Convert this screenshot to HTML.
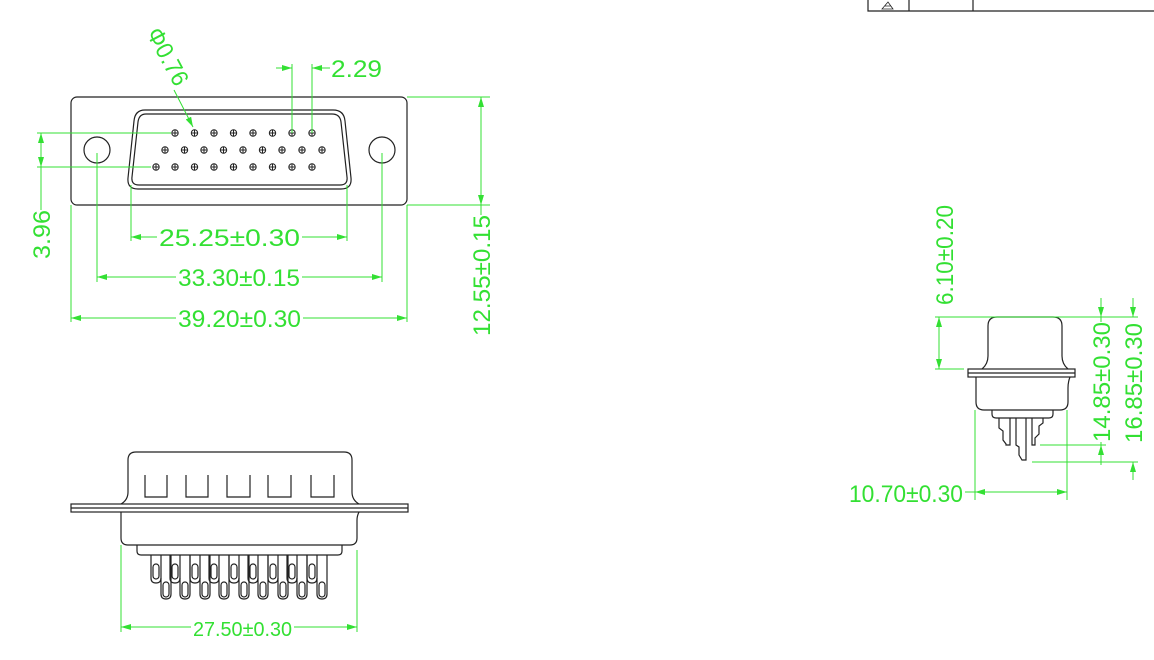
<!DOCTYPE html>
<html><head><meta charset="utf-8"><style>
html,body{margin:0;padding:0;background:#fff;width:1154px;height:660px;overflow:hidden}
svg{display:block}
.k{fill:none;stroke:#222;stroke-width:1.2}
.g{fill:none;stroke:#33e033;stroke-width:1}
text{font-family:"Liberation Sans",sans-serif;fill:#33e033;font-size:24px}
</style></head><body>
<svg width="1154" height="660" viewBox="0 0 1154 660">
<defs>
<marker id="a" viewBox="0 0 10 6" refX="10" refY="3" markerWidth="10" markerHeight="6" orient="auto-start-reverse" markerUnits="userSpaceOnUse"><path d="M0,0 L10,3 L0,6" fill="#33e033"/></marker>
<g id="pin"><circle r="3.2" fill="none" stroke="#222" stroke-width="1"/><path d="M-3.2,0H3.2M0,-3.2V3.2" stroke="#222" stroke-width="1"/></g>
</defs>

<!-- title block -->
<path d="M868,0V11H1154M909,0V11M973,0V11" stroke="#222" stroke-width="1.2" fill="none"/>
<path d="M882,9L888,2L893,9Z M885,6H891" stroke="#222" stroke-width="0.8" fill="none"/>

<!-- TOP VIEW -->
<rect x="71" y="97" width="336" height="108" rx="6" class="k"/>
<path class="k" d="M145,110 H333 Q344,110 345,121 L351,178 Q352,189 341,189 H138 Q127,189 128,178 L134,121 Q135,110 145,110Z"/>
<path class="k" d="M146,114 H332 Q340,114 341,122 L347,177 Q348,185 340,185 H139 Q131,185 132,177 L138,122 Q139,114 146,114Z"/>
<circle cx="97" cy="150" r="13" class="k"/>
<circle cx="382" cy="150" r="13" class="k"/>
<g>
<use href="#pin" x="175" y="133"/><use href="#pin" x="194.5" y="133"/><use href="#pin" x="214" y="133"/><use href="#pin" x="233.5" y="133"/><use href="#pin" x="253" y="133"/><use href="#pin" x="272.5" y="133"/><use href="#pin" x="292" y="133"/><use href="#pin" x="312" y="133"/>
<use href="#pin" x="165" y="150"/><use href="#pin" x="184.5" y="150"/><use href="#pin" x="204" y="150"/><use href="#pin" x="223.5" y="150"/><use href="#pin" x="243" y="150"/><use href="#pin" x="262.5" y="150"/><use href="#pin" x="282" y="150"/><use href="#pin" x="302" y="150"/><use href="#pin" x="322" y="150"/>
<use href="#pin" x="156" y="167"/><use href="#pin" x="175" y="167"/><use href="#pin" x="194.5" y="167"/><use href="#pin" x="214" y="167"/><use href="#pin" x="233.5" y="167"/><use href="#pin" x="253" y="167"/><use href="#pin" x="272.5" y="167"/><use href="#pin" x="292" y="167"/><use href="#pin" x="312" y="167"/>
</g>
<!-- 2.29 -->
<path class="g" d="M292,64V133M312,64V133"/>
<path class="g" d="M276,68H292" marker-end="url(#a)"/>
<path class="g" d="M330,68H312" marker-end="url(#a)"/>
<text x="331" y="77" textLength="51" lengthAdjust="spacingAndGlyphs">2.29</text>
<!-- phi -->
<path class="g" d="M174,90L193,127" marker-end="url(#a)"/>
<text transform="translate(146,33) rotate(62)" textLength="62" lengthAdjust="spacingAndGlyphs">Φ0.76</text>
<!-- 3.96 -->
<path class="g" d="M37,133H171M37,167H151"/>
<path class="g" d="M41,150V133" marker-end="url(#a)"/>
<path class="g" d="M41,150V167" marker-end="url(#a)"/>
<path class="g" d="M41,167V210"/>
<text transform="translate(50,259) rotate(-90)" textLength="49" lengthAdjust="spacingAndGlyphs">3.96</text>
<!-- 12.55 -->
<path class="g" d="M407,97H490M407,205H490"/>
<path class="g" d="M481,150V97" marker-end="url(#a)"/>
<path class="g" d="M481,150V205" marker-end="url(#a)"/>
<path class="g" d="M481,205V215"/>
<text transform="translate(490,336) rotate(-90)" textLength="121" lengthAdjust="spacingAndGlyphs">12.55±0.15</text>
<!-- 25.25 -->
<path class="g" d="M131,185V241M347,185V241"/>
<path class="g" d="M157,237H131" marker-end="url(#a)"/>
<path class="g" d="M302,237H347" marker-end="url(#a)"/>
<text x="159" y="246" textLength="141" lengthAdjust="spacingAndGlyphs">25.25±0.30</text>
<!-- 33.30 -->
<path class="g" d="M97,153V282M382,153V282"/>
<path class="g" d="M176,277H97" marker-end="url(#a)"/>
<path class="g" d="M302,277H382" marker-end="url(#a)"/>
<text x="178" y="286" textLength="122" lengthAdjust="spacingAndGlyphs">33.30±0.15</text>
<!-- 39.20 -->
<path class="g" d="M71,205V322M407,205V322"/>
<path class="g" d="M176,318H71" marker-end="url(#a)"/>
<path class="g" d="M303,318H407" marker-end="url(#a)"/>
<text x="178" y="327" textLength="123" lengthAdjust="spacingAndGlyphs">39.20±0.30</text>

<!-- BOTTOM VIEW -->
<path class="k" d="M121,504 Q128,500 128,492 V460 Q128,452 136,452 H344 Q352,452 352,460 V492 Q352,500 359,504"/>
<rect x="71" y="504" width="337" height="8" class="k"/>
<path class="k" d="M71,508H408"/>
<path class="k" d="M121,512 Q121,516 121,520 V538 Q121,545 128,545 H350 Q357,545 357,538 V520 Q357,516 359,512"/>
<path class="k" d="M137,545V551Q137,555 141,555H338Q342,555 342,551V545"/>
<path class="k" d="M145,475V497H167V475M186,475V497H208V475M227,475V497H250V475M268,475V497H291V475M311,475V497H334V475"/>
<g class="k" stroke-width="1">
<path d="M151,555V578Q151,583 156,583Q161,583 161,578V555M170,555V578Q170,583 175,583Q180,583 180,578V555M190,555V578Q190,583 195,583Q200,583 200,578V555M209,555V578Q209,583 214,583Q219,583 219,578V555M229,555V578Q229,583 234,583Q239,583 239,578V555M248,555V578Q248,583 253,583Q258,583 258,578V555M268,555V578Q268,583 273,583Q278,583 278,578V555M287,555V578Q287,583 292,583Q297,583 297,578V555M307,555V578Q307,583 312,583Q317,583 317,578V555"/>
<path d="M161,578V594Q161,599 166,599Q171,599 171,594V555M180,578V594Q180,599 185,599Q190,599 190,594V555M200,578V594Q200,599 205,599Q210,599 210,594V555M219,578V594Q219,599 224,599Q229,599 229,594V555M239,578V594Q239,599 244,599Q249,599 249,594V555M258,578V594Q258,599 263,599Q268,599 268,594V555M278,578V594Q278,599 283,599Q288,599 288,594V555M297,578V594Q297,599 302,599Q307,599 307,594V555M317,578V594Q317,599 322,599Q327,599 327,594V555"/>
<g fill="none">
<rect x="153" y="564" width="6" height="15" rx="3"/><rect x="172" y="564" width="6" height="15" rx="3"/><rect x="192" y="564" width="6" height="15" rx="3"/><rect x="211" y="564" width="6" height="15" rx="3"/><rect x="231" y="564" width="6" height="15" rx="3"/><rect x="250" y="564" width="6" height="15" rx="3"/><rect x="270" y="564" width="6" height="15" rx="3"/><rect x="289" y="564" width="6" height="15" rx="3"/><rect x="309" y="564" width="6" height="15" rx="3"/>
<rect x="163" y="582" width="6" height="15" rx="3"/><rect x="182" y="582" width="6" height="15" rx="3"/><rect x="202" y="582" width="6" height="15" rx="3"/><rect x="221" y="582" width="6" height="15" rx="3"/><rect x="241" y="582" width="6" height="15" rx="3"/><rect x="260" y="582" width="6" height="15" rx="3"/><rect x="280" y="582" width="6" height="15" rx="3"/><rect x="299" y="582" width="6" height="15" rx="3"/><rect x="319" y="582" width="6" height="15" rx="3"/>
</g></g>
<path class="g" d="M121,545V632M357,550V632"/>
<path class="g" d="M191,627H121" marker-end="url(#a)"/>
<path class="g" d="M294,627H357" marker-end="url(#a)"/>
<text x="193" y="636" style="font-size:20px" textLength="99" lengthAdjust="spacingAndGlyphs">27.50±0.30</text>

<!-- SIDE VIEW -->
<path class="k" d="M982,369 Q988,364 988,356 V326 Q988,317 997,317 H1053 Q1062,317 1062,326 V356 Q1062,364 1068,369"/>
<rect x="968" y="369" width="107" height="8" class="k"/>
<path class="k" d="M968,373H1075"/>
<path class="k" d="M976,377 Q976,382 976,388 V402 Q976,410 984,410 H1060 Q1068,410 1068,402 V388 Q1068,382 1070,377"/>
<path class="k" d="M992,410V414Q992,418 996,418H1049Q1053,418 1053,414V410"/>
<path class="k" stroke-width="1" d="M999,418V428L1003,431V440L1006,444V445H1010V418M1016,418V445L1019,447V455L1022,460H1026V418M1032,418V445H1035V438L1039,434V426L1043,423V418"/>
<path class="g" d="M935,317H1138M935,369H964"/>
<path class="g" d="M939,343V317" marker-end="url(#a)"/>
<path class="g" d="M939,343V369" marker-end="url(#a)"/>
<text transform="translate(953,305) rotate(-90)" textLength="100" lengthAdjust="spacingAndGlyphs">6.10±0.20</text>
<path class="g" d="M1040,445H1106M1032,462H1138"/>
<path class="g" d="M1101,298V317" marker-end="url(#a)"/>
<path class="g" d="M1101,465V445" marker-end="url(#a)"/>
<path class="g" d="M1101,317V322M1101,442V445"/>
<text transform="translate(1110,442) rotate(-90)" textLength="120" lengthAdjust="spacingAndGlyphs">14.85±0.30</text>
<path class="g" d="M1133,298V317" marker-end="url(#a)"/>
<path class="g" d="M1133,480V462" marker-end="url(#a)"/>
<text transform="translate(1142,443) rotate(-90)" textLength="120" lengthAdjust="spacingAndGlyphs">16.85±0.30</text>
<path class="g" d="M975,410V500M1067,410V500"/>
<path class="g" d="M965,492H975"/>
<path class="g" d="M1000,492H975" marker-end="url(#a)"/>
<path class="g" d="M1000,492H1067" marker-end="url(#a)"/>
<text x="849" y="502" textLength="114" lengthAdjust="spacingAndGlyphs">10.70±0.30</text>
</svg>
</body></html>
